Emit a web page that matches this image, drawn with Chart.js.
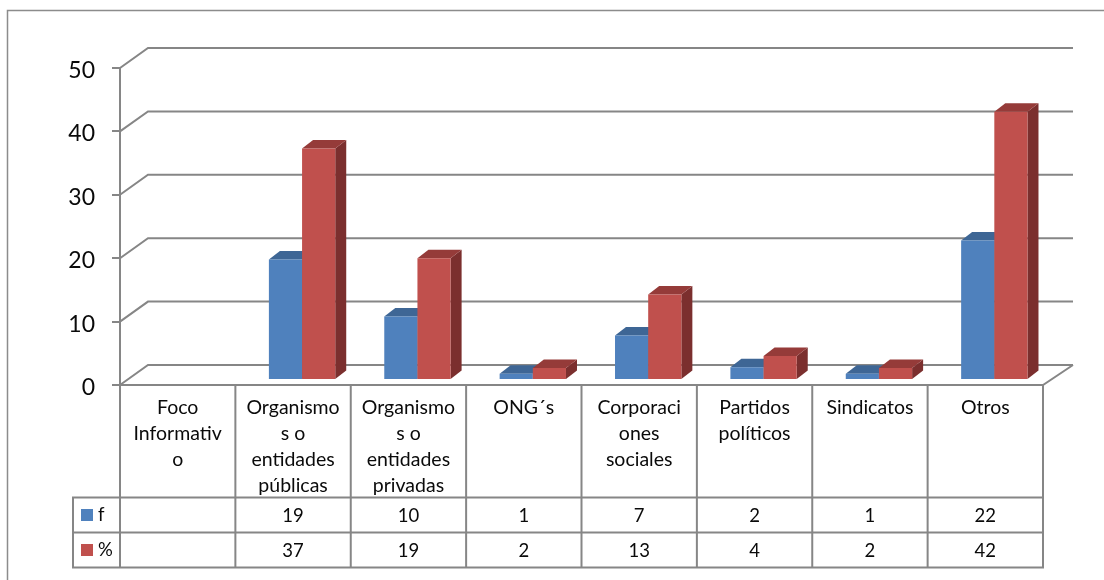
<!DOCTYPE html>
<html>
<head>
<meta charset="utf-8">
<title>Foco Informativo</title>
<script src="https://cdn.jsdelivr.net/npm/chart.js@4/dist/chart.umd.min.js"></script>
<style>
  html, body { margin: 0; padding: 0; background: #fff; }
  #wrap { width: 1104px; height: 580px; }
</style>
</head>
<body>
<div id="wrap"><canvas id="chart" width="1104" height="580"></canvas></div>
<script>
// Category labels, broken the same way the table cells wrap them
const categories = [
  ['Foco', 'Informativ', 'o'],
  ['Organismo', 's o', 'entidades', 'públicas'],
  ['Organismo', 's o', 'entidades', 'privadas'],
  ['ONG´s'],
  ['Corporaci', 'ones', 'sociales'],
  ['Partidos', 'políticos'],
  ['Sindicatos'],
  ['Otros'],
];
const fValues = [null, 19, 10, 1, 7, 2, 1, 22];
// bar heights; the table prints them rounded
const pctValues = [null, 36.5, 19.2, 1.9, 13.5, 3.8, 1.9, 42.3];
const pctLabels = ['', '37', '19', '2', '13', '4', '2', '42'];
const fLabels = ['', '19', '10', '1', '7', '2', '1', '22'];

const GRID = '#868686';
const TEXT = '#0a0a0a';
const FONT = 'Lato, sans-serif';
const BLUE = '#4F81BD', BLUE_TOP = '#3E6695', BLUE_SIDE = '#3A5F8B';
const RED = '#C0504D', RED_TOP = '#953B39', RED_SIDE = '#7B2F2E';

// 3D look of the old Excel chart
const WALL_X = 28, WALL_Y = 20;      // back wall offset from the axis
const BAR_X = 9, BAR_Y = 5;          // bars stand a little way into the floor
const DEPTH_X = 11, DEPTH_Y = 8.5;   // bar depth
const ROW_TOP = 497.5, ROW_H = 35;
const TABLE_LEFT = 73;

const walls = {
  id: 'walls',
  beforeDatasetsDraw(chart) {
    const { ctx, chartArea: a, scales: { y } } = chart;
    ctx.save();
    ctx.strokeStyle = GRID;
    ctx.lineWidth = 2;
    y.ticks.forEach(t => {
      const py = y.getPixelForValue(t.value);
      ctx.beginPath();
      ctx.moveTo(a.left, py);
      ctx.lineTo(a.left + WALL_X, py - WALL_Y);
      ctx.lineTo(a.right + 30, py - WALL_Y);
      ctx.stroke();
    });
    // floor edges
    const y0 = y.getPixelForValue(0);
    ctx.beginPath();
    ctx.moveTo(a.left, y0);
    ctx.lineTo(a.right, y0);
    ctx.lineTo(a.right + 30, y0 - WALL_Y);
    ctx.stroke();

    // bars: blue first, red over it, shifted onto the floor
    ctx.translate(BAR_X, -BAR_Y);
    [0, 1].forEach(ds => {
      const isBlue = ds === 0;
      chart.getDatasetMeta(ds).data.forEach((bar, i) => {
        if (chart.data.datasets[ds].data[i] == null) return;
        const p = bar.getProps(['x', 'y', 'base', 'width']);
        const l = p.x - p.width / 2, r = p.x + p.width / 2;
        ctx.fillStyle = isBlue ? BLUE_SIDE : RED_SIDE;
        ctx.beginPath();
        ctx.moveTo(r, p.y);
        ctx.lineTo(r + DEPTH_X, p.y - DEPTH_Y);
        ctx.lineTo(r + DEPTH_X, p.base - DEPTH_Y);
        ctx.lineTo(r, p.base);
        ctx.closePath();
        ctx.fill();
        ctx.fillStyle = isBlue ? BLUE_TOP : RED_TOP;
        ctx.beginPath();
        ctx.moveTo(l, p.y);
        ctx.lineTo(l + DEPTH_X, p.y - DEPTH_Y);
        ctx.lineTo(r + DEPTH_X, p.y - DEPTH_Y);
        ctx.lineTo(r, p.y);
        ctx.closePath();
        ctx.fill();
        bar.draw(ctx);
      });
    });
    ctx.restore();
  },
  // the bars are painted above, in the order the 3D look needs
  beforeDatasetDraw() {
    return false;
  },
};

const dataTable = {
  id: 'dataTable',
  afterDraw(chart) {
    const { ctx, chartArea: a, scales: { x, y } } = chart;
    const rows = [
      { key: 'f', color: BLUE, labels: fLabels },
      { key: '%', color: RED, labels: pctLabels },
    ];
    const bottom = ROW_TOP + ROW_H * rows.length;
    const band = x.getPixelForValue(1) - x.getPixelForValue(0);
    ctx.save();
    ctx.strokeStyle = GRID;
    ctx.lineWidth = 2;
    ctx.beginPath();
    categories.forEach((c, i) => {
      const px = x.getPixelForValue(i) - band / 2;
      ctx.moveTo(px, a.bottom);
      ctx.lineTo(px, bottom);
    });
    ctx.moveTo(a.right, a.bottom);
    ctx.lineTo(a.right, bottom);
    ctx.moveTo(TABLE_LEFT, ROW_TOP);
    ctx.lineTo(TABLE_LEFT, bottom);
    for (let r = 0; r <= rows.length; r++) {
      ctx.moveTo(TABLE_LEFT - 1, ROW_TOP + ROW_H * r);
      ctx.lineTo(a.right + 1, ROW_TOP + ROW_H * r);
    }
    ctx.stroke();

    ctx.font = '18.5px ' + FONT;
    ctx.textBaseline = 'middle';
    rows.forEach((row, r) => {
      const cy = ROW_TOP + ROW_H * r + ROW_H / 2;
      ctx.fillStyle = row.color;
      ctx.fillRect(81, cy - 6, 12, 12);
      ctx.fillStyle = TEXT;
      ctx.textAlign = 'left';
      ctx.fillText(row.key, 98, cy);
      ctx.textAlign = 'center';
      row.labels.forEach((v, i) => ctx.fillText(v, x.getPixelForValue(i), cy + 1));
    });

    // value axis labels: Lato sits a bit high on the native middle baseline
    ctx.font = '23px ' + FONT;
    ctx.textAlign = 'right';
    y.ticks.forEach(t => ctx.fillText(t.label, 95, y.getPixelForValue(t.value) + 2.5));
    ctx.restore();
  },
};

const frame = {
  id: 'frame',
  beforeDraw(chart) {
    const { ctx } = chart;
    ctx.save();
    ctx.strokeStyle = '#8c8c8c';
    ctx.lineWidth = 1.5;
    ctx.beginPath();
    ctx.moveTo(7.5, 580);
    ctx.lineTo(7.5, 10.5);
    ctx.lineTo(1104, 10.5);
    ctx.stroke();
    ctx.restore();
  },
};

new Chart(document.getElementById('chart'), {
  type: 'bar',
  data: {
    labels: categories,
    datasets: [
      { label: 'f', data: fValues, backgroundColor: BLUE },
      { label: '%', data: pctValues, backgroundColor: RED },
    ],
  },
  plugins: [frame, walls, dataTable],
  options: {
    responsive: false,
    animation: false,
    layout: { padding: { left: 0, top: 68, right: 61, bottom: 0 } },
    plugins: { legend: { display: false }, tooltip: { enabled: false } },
    datasets: { bar: { categoryPercentage: 0.575, barPercentage: 1.0 } },
    scales: {
      x: {
        afterFit: (s) => { s.height = 195; },
        grid: { display: false, drawTicks: false },
        border: { display: false },
        ticks: {
          maxRotation: 0, autoSkip: false, padding: 10, color: TEXT,
          font: { family: FONT, size: 19.5, lineHeight: 1.33 },
        },
      },
      y: {
        min: 0,
        max: 50,
        afterFit: (s) => { s.width = 120; },
        grid: { drawOnChartArea: false, color: GRID, lineWidth: 2, tickLength: 8 },
        border: { color: GRID, width: 2 },
        ticks: { display: false, stepSize: 10 },
      },
    },
  },
});
</script>
</body>
</html>
